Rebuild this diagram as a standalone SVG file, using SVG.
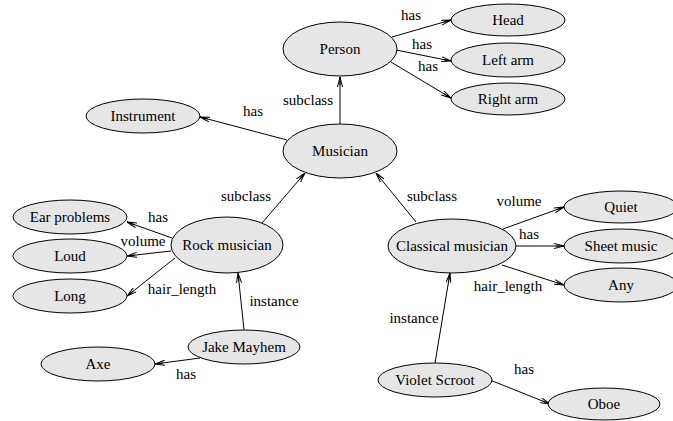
<svg xmlns="http://www.w3.org/2000/svg" width="673" height="421" viewBox="0 0 673 421">
<style>
text{font-family:"Liberation Serif","Times New Roman",serif;font-size:15px;fill:#000}
.n ellipse{fill:#e6e6e6;stroke:#000;stroke-width:1}
.n text{text-anchor:middle}
.e line{stroke:#000;stroke-width:1;marker-end:url(#a)}
.l{text-anchor:middle}
</style>
<defs>
<marker id="a" viewBox="0 0 10 6" refX="10" refY="3" markerWidth="10" markerHeight="6" markerUnits="userSpaceOnUse" orient="auto">
<path d="M0,0.5 L10,3 L0,5.5 M2,3 L10,3" fill="none" stroke="#000" stroke-width="1"/>
</marker>
</defs>
<rect width="673" height="421" fill="#fff"/>
<g id="edges" class="e">
<line x1="340" y1="124" x2="340" y2="77"/>
<line x1="392" y1="37" x2="451" y2="20"/>
<line x1="396" y1="50" x2="451" y2="61"/>
<line x1="391" y1="62" x2="451" y2="98"/>
<line x1="287" y1="140" x2="200" y2="117"/>
<line x1="262" y1="223" x2="305" y2="173"/>
<line x1="416" y1="222" x2="376" y2="173"/>
<line x1="172" y1="238" x2="127" y2="222"/>
<line x1="171" y1="251" x2="127" y2="256"/>
<line x1="175" y1="258" x2="127" y2="296"/>
<line x1="244" y1="330" x2="238" y2="273"/>
<line x1="200" y1="358" x2="155" y2="364"/>
<line x1="503" y1="229" x2="564" y2="207"/>
<line x1="516" y1="246" x2="564" y2="246"/>
<line x1="502" y1="265" x2="564" y2="285"/>
<line x1="435" y1="363" x2="450" y2="273"/>
<line x1="490" y1="380" x2="550" y2="404"/>
</g>
<g id="labels">
<text class="l" x="308" y="105">subclass</text>
<text class="l" x="411" y="20">has</text>
<text class="l" x="422" y="49">has</text>
<text class="l" x="428" y="71">has</text>
<text class="l" x="253" y="116">has</text>
<text class="l" x="246" y="201">subclass</text>
<text class="l" x="432" y="201">subclass</text>
<text class="l" x="158" y="222">has</text>
<text class="l" x="143" y="246">volume</text>
<text class="l" x="182" y="294">hair_length</text>
<text class="l" x="274" y="306">instance</text>
<text class="l" x="186" y="379">has</text>
<text class="l" x="519" y="206">volume</text>
<text class="l" x="529" y="239">has</text>
<text class="l" x="508" y="291">hair_length</text>
<text class="l" x="414" y="323">instance</text>
<text class="l" x="524" y="374">has</text>
</g>
<g id="person" class="n"><ellipse cx="340" cy="49" rx="57" ry="27"/><text x="340" y="54">Person</text></g>
<g id="head" class="n"><ellipse cx="508" cy="20" rx="57" ry="16"/><text x="508" y="25">Head</text></g>
<g id="leftarm" class="n"><ellipse cx="508" cy="60" rx="57" ry="17"/><text x="508" y="65">Left arm</text></g>
<g id="rightarm" class="n"><ellipse cx="508" cy="99" rx="57" ry="16"/><text x="508" y="104">Right arm</text></g>
<g id="instrument" class="n"><ellipse cx="143" cy="116" rx="57" ry="17"/><text x="143" y="121">Instrument</text></g>
<g id="musician" class="n"><ellipse cx="340" cy="151" rx="57" ry="27"/><text x="340" y="156">Musician</text></g>
<g id="rock" class="n"><ellipse cx="227" cy="245" rx="56" ry="28"/><text x="227" y="250">Rock musician</text></g>
<g id="ear" class="n"><ellipse cx="70" cy="217" rx="57" ry="17"/><text x="70" y="222">Ear problems</text></g>
<g id="loud" class="n"><ellipse cx="70" cy="256" rx="57" ry="17"/><text x="70" y="261">Loud</text></g>
<g id="long" class="n"><ellipse cx="70" cy="296" rx="57" ry="17"/><text x="70" y="301">Long</text></g>
<g id="jake" class="n"><ellipse cx="244" cy="347" rx="56" ry="17"/><text x="244" y="352">Jake Mayhem</text></g>
<g id="axe" class="n"><ellipse cx="98" cy="364" rx="57" ry="17"/><text x="98" y="369">Axe</text></g>
<g id="classical" class="n"><ellipse cx="452" cy="246" rx="64" ry="27"/><text x="452" y="251">Classical musician</text></g>
<g id="quiet" class="n"><ellipse cx="621" cy="207" rx="57" ry="16"/><text x="621" y="212">Quiet</text></g>
<g id="sheet" class="n"><ellipse cx="621" cy="246" rx="57" ry="17"/><text x="621" y="251">Sheet music</text></g>
<g id="any" class="n"><ellipse cx="621" cy="285" rx="57" ry="17"/><text x="621" y="290">Any</text></g>
<g id="violet" class="n"><ellipse cx="435" cy="380" rx="57" ry="17"/><text x="435" y="385">Violet Scroot</text></g>
<g id="oboe" class="n"><ellipse cx="604" cy="404" rx="56" ry="16"/><text x="604" y="409">Oboe</text></g>
</svg>
